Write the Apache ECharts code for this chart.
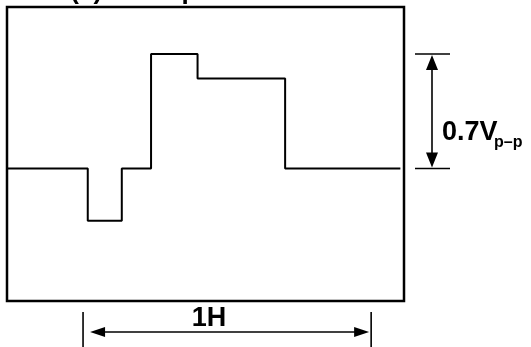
<!DOCTYPE html>
<html>
<head>
<meta charset="utf-8">
<script src="https://cdn.jsdelivr.net/npm/echarts@6/dist/echarts.min.js"></script>
<style>html,body{margin:0;padding:0;background:#fff}#c{width:531px;height:347px}</style>
</head>
<body>
<div id="c"></div>
<script>
// Transition times (µs) and signal levels (V) between transitions
const times = [0, 17.8, 25.3, 31.75, 42.0, 61.3, 86.7];
const levels = [0, -0.32, 0, 0.7, 0.55, 0];
// One horizontal period (1H) markers, µs
const hPeriod = [16.76, 80.26];
// Peak-to-peak amplitude markers, V
const ampRange = [0, 0.7];
const titleText = 'OSC(a) IF Chip In';
const ampLabel = '0.7V';
const ampSub = 'p\u2013p';
const hLabel = '1H';

const wave = [];
for (let i = 0; i < levels.length; i++) {
  wave.push([times[i], levels[i]]);
  wave.push([times[i + 1], levels[i]]);
}

const chart = echarts.init(document.getElementById('c'), null, {renderer: 'canvas'});
const G = {left: 7, top: 7, width: 397, height: 294};
chart.setOption({
  animation: false,
  backgroundColor: '#fff',
  grid: {left: G.left, top: G.top, width: G.width, height: G.height, show: true,
         borderColor: '#000', borderWidth: 2.5, backgroundColor: 'transparent'},
  xAxis: {type: 'value', min: 0, max: 87.5, show: false},
  yAxis: {type: 'value', min: -0.81, max: 0.987, show: false},
  series: [{
    type: 'line', data: wave, symbol: 'none', clip: false,
    lineStyle: {color: '#000', width: 2}
  }]
});

function px(x, y) { return chart.convertToPixel({gridIndex: 0}, [x, y]); }
const right = G.left + G.width;
const bottom = G.top + G.height;
const yTop = px(0, ampRange[1])[1];
const yBase = px(0, ampRange[0])[1];
const xL = px(hPeriod[0], 0)[0];
const xR = px(hPeriod[1], 0)[0];
const ax = right + 28;
const ly = bottom + 31;
const lw = 1.6;
const st = {stroke: '#000', lineWidth: lw};
const g = [];
// right amplitude markers
g.push({type: 'line', shape: {x1: right + 11, y1: yTop, x2: right + 46, y2: yTop}, style: st});
g.push({type: 'line', shape: {x1: right + 11, y1: yBase, x2: right + 46, y2: yBase}, style: st});
g.push({type: 'line', shape: {x1: ax, y1: yTop + 10, x2: ax, y2: yBase - 10}, style: st});
g.push({type: 'polygon', shape: {points: [[ax, yTop + 1], [ax - 6, yTop + 16], [ax + 6, yTop + 16]]}, style: {fill: '#000'}});
g.push({type: 'polygon', shape: {points: [[ax, yBase - 1], [ax - 6, yBase - 16], [ax + 6, yBase - 16]]}, style: {fill: '#000'}});
g.push({type: 'text', x: right + 38, y: (yTop + yBase) / 2 + 35, style: {text: ampLabel, font: 'bold 27px "Liberation Sans", Arial, sans-serif', fill: '#000', align: 'left', verticalAlign: 'bottom'}});
g.push({type: 'text', x: right + 90, y: (yTop + yBase) / 2 + 39, style: {text: ampSub, font: 'bold 16px "Liberation Sans", Arial, sans-serif', fill: '#000', align: 'left', verticalAlign: 'bottom'}});
// bottom 1H markers
g.push({type: 'line', shape: {x1: xL, y1: bottom + 11, x2: xL, y2: bottom + 50}, style: st});
g.push({type: 'line', shape: {x1: xR, y1: bottom + 11, x2: xR, y2: bottom + 50}, style: st});
g.push({type: 'line', shape: {x1: xL + 12, y1: ly, x2: xR - 10, y2: ly}, style: st});
g.push({type: 'polygon', shape: {points: [[xL + 7, ly], [xL + 22, ly - 5], [xL + 22, ly + 5]]}, style: {fill: '#000'}});
g.push({type: 'polygon', shape: {points: [[xR - 2, ly], [xR - 17, ly - 5], [xR - 17, ly + 5]]}, style: {fill: '#000'}});
g.push({type: 'text', x: (xL + xR) / 2 - 18, y: ly, style: {text: hLabel, font: 'bold 27px "Liberation Sans", Arial, sans-serif', fill: '#000', align: 'center', verticalAlign: 'bottom'}});
// title (cut off at top)
g.push({type: 'text', x: 14, y: 5, style: {text: titleText, font: 'bold 26px "Liberation Sans", Arial, sans-serif', fill: '#000', align: 'left', verticalAlign: 'bottom'}});
chart.setOption({graphic: g});
</script>
</body>
</html>
